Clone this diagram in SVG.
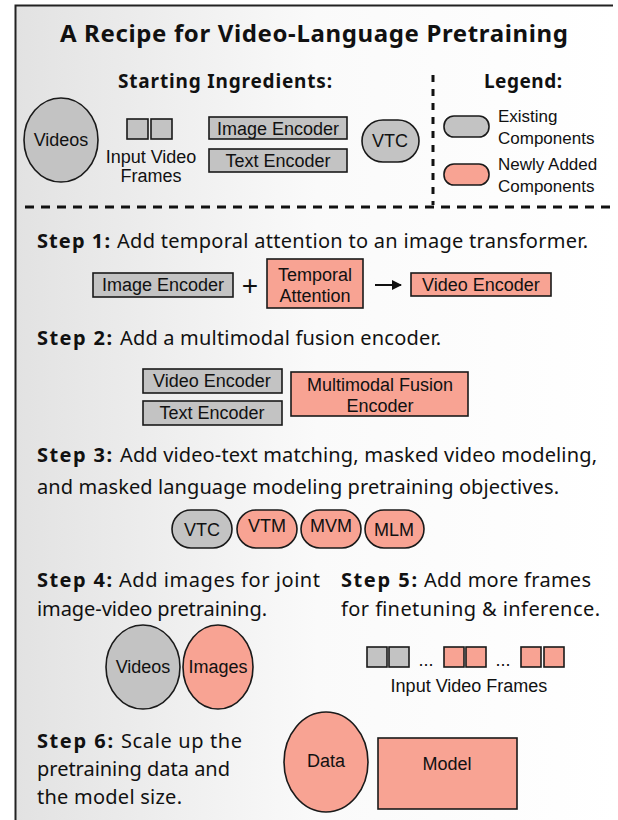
<svg xmlns="http://www.w3.org/2000/svg" width="618" height="820" viewBox="0 0 618 820">
<defs>
  <linearGradient id="bg" x1="0" y1="0" x2="1" y2="0" gradientUnits="objectBoundingBox">
    <stop offset="0" stop-color="#e2e2e2"/>
    <stop offset="0.5" stop-color="#fafafa"/>
    <stop offset="1" stop-color="#ffffff"/>
  </linearGradient>
  <marker id="arr" viewBox="0 0 10 10" refX="9" refY="5" markerWidth="5" markerHeight="5" orient="auto">
    <path d="M0,0 L10,5 L0,10 z" fill="#111"/>
  </marker>
  <style>
    .h{font-family:"Noto Sans",sans-serif;font-weight:bold;fill:#111}
    .t{font-family:"Noto Sans",sans-serif;fill:#111;font-size:20px}
    .b{font-family:"Noto Sans",sans-serif;font-weight:bold;fill:#111;font-size:20px}
    .l{font-family:"Liberation Sans",Arial,sans-serif;fill:#111;font-size:18px;text-anchor:middle}
    .lg{font-family:"Liberation Sans",Arial,sans-serif;fill:#111;font-size:17px}
    .g{fill:#c3c3c3;stroke:#1a1a1a;stroke-width:1.6}
    .s{fill:#f8a393;stroke:#1a1a1a;stroke-width:1.6}
  </style>
</defs>
<rect x="15" y="5" width="603" height="815" fill="url(#bg)"/>
<path d="M15.5,820 V5.5 H613" fill="none" stroke="#222" stroke-width="2"/>

<text class="h" x="60" y="42" font-size="24" textLength="508">A Recipe for Video-Language Pretraining</text>
<text class="h" x="118" y="88" font-size="19" textLength="214">Starting Ingredients:</text>
<text class="h" x="484" y="88" font-size="19" textLength="78">Legend:</text>

<g id="separators" fill="none" stroke="#111" stroke-width="3">
  <line x1="433" y1="75" x2="433" y2="205" stroke-dasharray="7 7"/>
  <line x1="25" y1="207" x2="612" y2="207" stroke-dasharray="9 7"/>
</g>

<g id="ing-videos"><ellipse class="g" cx="61" cy="140" rx="37" ry="42"/><text class="l" x="61" y="146">Videos</text></g>
<g id="ing-frames">
  <rect class="g" x="127" y="119" width="21" height="20"/>
  <rect class="g" x="151" y="119" width="21" height="20"/>
  <text class="l" x="151" y="163">Input Video</text>
  <text class="l" x="151" y="182">Frames</text>
</g>
<g id="ing-image-encoder"><rect class="g" x="209" y="117" width="138" height="22"/><text class="l" x="278" y="135">Image Encoder</text></g>
<g id="ing-text-encoder"><rect class="g" x="209" y="149" width="138" height="23"/><text class="l" x="278" y="167">Text Encoder</text></g>
<g id="ing-vtc"><rect class="g" x="362" y="120" width="57" height="42" rx="21"/><text class="l" x="390" y="147">VTC</text></g>

<g id="legend-existing"><rect class="g" x="444" y="116" width="45" height="21" rx="10"/><text class="lg" x="498" y="122">Existing</text><text class="lg" x="498" y="144">Components</text></g>
<g id="legend-new"><rect class="s" x="444" y="164" width="45" height="21" rx="10"/><text class="lg" x="498" y="170">Newly Added</text><text class="lg" x="498" y="192">Components</text></g>

<!-- Step 1 -->
<text class="b" x="37" y="248" textLength="73">Step 1:</text>
<text class="t" x="117" y="248" textLength="471">Add temporal attention to an image transformer.</text>
<g id="s1-image-encoder"><rect class="g" x="93" y="273" width="140" height="24"/><text class="l" x="163" y="291">Image Encoder</text></g>
<text class="l" x="250" y="295" style="font-size:28px">+</text>
<g id="s1-temporal"><rect class="s" x="267" y="259" width="96" height="49"/><text class="l" x="315" y="281">Temporal</text><text class="l" x="315" y="302">Attention</text></g>
<g id="connectors"><line x1="375" y1="285" x2="401" y2="285" stroke="#111" stroke-width="2" marker-end="url(#arr)"/></g>
<g id="s1-video-encoder"><rect class="s" x="411" y="273" width="140" height="23"/><text class="l" x="481" y="291">Video Encoder</text></g>

<!-- Step 2 -->
<text class="b" x="37" y="345" textLength="75">Step 2:</text>
<text class="t" x="120" y="345" textLength="321">Add a multimodal fusion encoder.</text>
<g id="s2-video-encoder"><rect class="g" x="143" y="369" width="139" height="24"/><text class="l" x="212" y="387">Video Encoder</text></g>
<g id="s2-text-encoder"><rect class="g" x="143" y="401" width="139" height="24"/><text class="l" x="212" y="419">Text Encoder</text></g>
<g id="s2-fusion"><rect class="s" x="291" y="372" width="177" height="44"/><text class="l" x="380" y="391">Multimodal Fusion</text><text class="l" x="380" y="412">Encoder</text></g>

<!-- Step 3 -->
<text class="b" x="37" y="462" textLength="75">Step 3:</text>
<text class="t" x="120" y="462" textLength="477">Add video-text matching, masked video modeling,</text>
<text class="t" x="37" y="494" textLength="522">and masked language modeling pretraining objectives.</text>
<g id="s3-vtc"><rect class="g" x="172" y="510" width="60" height="38" rx="19"/><text class="l" x="202" y="536">VTC</text></g>
<g id="s3-vtm"><rect class="s" x="237" y="510" width="60" height="38" rx="19"/><text class="l" x="267" y="532">VTM</text></g>
<g id="s3-mvm"><rect class="s" x="301" y="510" width="60" height="38" rx="19"/><text class="l" x="331" y="532">MVM</text></g>
<g id="s3-mlm"><rect class="s" x="365" y="510" width="59" height="38" rx="19"/><text class="l" x="394" y="536">MLM</text></g>

<!-- Step 4 -->
<text class="b" x="37" y="587" textLength="75">Step 4:</text>
<text class="t" x="119" y="587" textLength="201">Add images for joint</text>
<text class="t" x="37" y="616" textLength="230">image-video pretraining.</text>
<g id="s4-videos"><ellipse class="g" cx="143" cy="667" rx="37" ry="42"/><text class="l" x="143" y="673">Videos</text></g>
<g id="s4-images"><ellipse class="s" cx="218" cy="667" rx="35" ry="42"/><text class="l" x="218" y="673">Images</text></g>

<!-- Step 5 -->
<text class="b" x="341" y="587" textLength="76">Step 5:</text>
<text class="t" x="424" y="587" textLength="167">Add more frames</text>
<text class="t" x="341" y="616" textLength="259">for finetuning &amp; inference.</text>
<g id="s5-frames">
  <rect class="g" x="367" y="647" width="20" height="20"/>
  <rect class="g" x="389" y="647" width="20" height="20"/>
  <text class="l" x="426" y="666">...</text>
  <rect class="s" x="444" y="647" width="20" height="20"/>
  <rect class="s" x="466" y="647" width="20" height="20"/>
  <text class="l" x="503" y="666">...</text>
  <rect class="s" x="521" y="647" width="20" height="20"/>
  <rect class="s" x="544" y="647" width="20" height="20"/>
  <text class="l" x="469" y="692">Input Video Frames</text>
</g>

<!-- Step 6 -->
<text class="b" x="37" y="748" textLength="76">Step 6:</text>
<text class="t" x="121" y="748" textLength="121">Scale up the</text>
<text class="t" x="37" y="776" textLength="193">pretraining data and</text>
<text class="t" x="37" y="804" textLength="145">the model size.</text>
<g id="s6-data"><ellipse class="s" cx="326" cy="762" rx="42" ry="50"/><text class="l" x="326" y="767">Data</text></g>
<g id="s6-model"><rect class="s" x="378" y="738" width="139" height="71"/><text class="l" x="447" y="770">Model</text></g>
</svg>
